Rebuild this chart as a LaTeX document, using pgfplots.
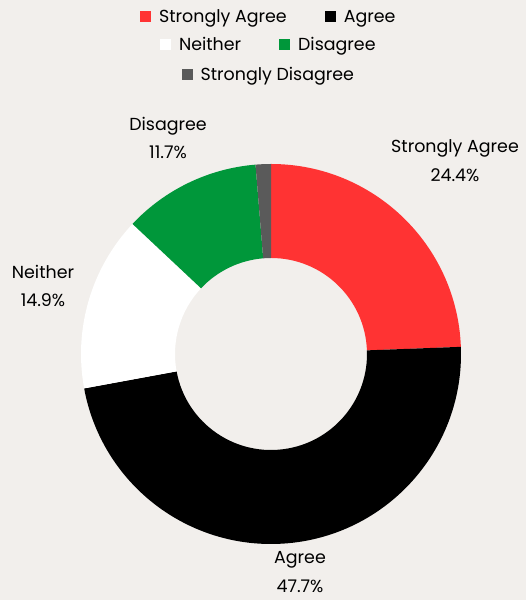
\documentclass[border=0pt]{standalone}
\usepackage{pgfplots}
\pgfplotsset{compat=1.18}
\usepackage{pgfplotstable}
\usepackage{fontspec}
\setmainfont{Poppins}
\definecolor{bg}{HTML}{F2EFEC}
\definecolor{sa}{HTML}{FF3333}
\definecolor{ag}{HTML}{000000}
\definecolor{ne}{HTML}{FFFFFF}
\definecolor{di}{HTML}{00973A}
\definecolor{sd}{HTML}{5A5A5A}

\pgfplotstableread[col sep=comma]{
label,value,color
Strongly Agree,24.4,sa
Agree,47.7,ag
Neither,14.9,ne
Disagree,11.7,di
Strongly Disagree,1.3,sd
}\slices

\newcommand\lfont{\fontsize{17.5}{29}\selectfont}
\pgfplotsset{
  base/.style={
    scale only axis, x=1bp, y=1bp,
    xmin=-271, xmax=255, ymin=-246, ymax=354,
    hide axis, clip=false,
    legend style={draw=none, fill=none, font=\lfont, anchor=center,
      inner sep=0pt,
      /tikz/every even column/.append style={column sep=36bp}},
    legend columns=-1,
    legend image code/.code={\fill[##1, draw=none] (0bp,-5.5bp) rectangle (11bp,5.5bp);
      \path[draw=none, fill=none] (0bp,0bp) -- (17bp,0bp);},
  },
}

\begin{document}
\begin{tikzpicture}
% cumulative angles from the data
\gdef\acc{0}
\pgfplotstablegetrowsof{\slices}
\pgfmathtruncatemacro\nrows{\pgfplotsretval-1}
\foreach \i in {0,...,\nrows}{
  \pgfplotstablegetelem{\i}{value}\of\slices
  \let\v\pgfplotsretval
  \pgfplotstablegetelem{\i}{color}\of\slices
  \expandafter\xdef\csname c\i\endcsname{\pgfplotsretval}
  \pgfmathsetmacro\s{90-3.6*\acc}
  \pgfmathsetmacro\e{90-3.6*(\acc+\v)}
  \expandafter\xdef\csname s\i\endcsname{\s}
  \expandafter\xdef\csname e\i\endcsname{\e}
  \pgfmathsetmacro\na{\acc+\v}
  \xdef\acc{\na}
}
\begin{axis}[base,
  legend style={at={(axis description cs:0.511,0.972)}}]
  \fill[bg] (-271,-246) rectangle (255,354);
  \pgfplotsinvokeforeach{0,...,4}{
    \fill[\csname c#1\endcsname]
      ({190*cos(\csname s#1\endcsname)},{190*sin(\csname s#1\endcsname)})
      arc[start angle=\csname s#1\endcsname, end angle=\csname e#1\endcsname, radius=190bp]
      -- ({96*cos(\csname e#1\endcsname)},{96*sin(\csname e#1\endcsname)})
      arc[start angle=\csname e#1\endcsname, end angle=\csname s#1\endcsname, radius=96bp]
      -- cycle;
  }
  \node[align=center, font=\lfont] at (184,193) {Strongly Agree\\24.4\%};
  \node[align=center, font=\lfont] at (29,-218) {Agree\\47.7\%};
  \node[align=center, font=\lfont] at (-228,68) {Neither\\14.9\%};
  \node[align=center, font=\lfont] at (-103,216) {Disagree\\11.7\%};
  \addlegendimage{fill=sa}\addlegendentry{Strongly Agree}
  \addlegendimage{fill=ag}\addlegendentry{Agree}
\end{axis}
\begin{axis}[base,
  legend style={at={(axis description cs:0.511,0.925)}}]
  \addlegendimage{fill=ne}\addlegendentry{Neither}
  \addlegendimage{fill=di}\addlegendentry{Disagree}
\end{axis}
\begin{axis}[base,
  legend style={at={(axis description cs:0.511,0.875)}}]
  \addlegendimage{fill=sd}\addlegendentry{Strongly Disagree}
\end{axis}
\end{tikzpicture}
\end{document}
